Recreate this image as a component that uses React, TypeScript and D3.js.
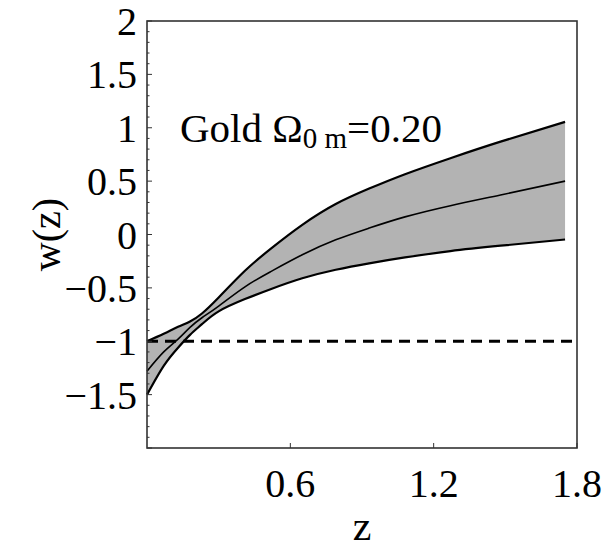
import React from 'react'
import * as d3 from 'd3'

// redshift samples and w(z) band
const zs = [0, 0.07, 0.13, 0.18, 0.23, 0.3, 0.41, 0.52, 0.65, 0.79, 0.93, 1.08, 1.27, 1.48, 1.75]
const upper = [-1.0, -0.93, -0.865, -0.815, -0.74, -0.59, -0.34, -0.13, 0.09, 0.285, 0.43, 0.565, 0.715, 0.87, 1.055]
const middle = [-1.28, -1.1, -0.98, -0.87, -0.78, -0.67, -0.49, -0.345, -0.19, -0.05, 0.06, 0.165, 0.27, 0.37, 0.5]
const lower = [-1.5, -1.23, -1.06, -0.94, -0.84, -0.72, -0.605, -0.51, -0.41, -0.33, -0.27, -0.215, -0.155, -0.105, -0.047]

const xTicks = [0.6, 1.2, 1.8]
const yTicks = [-1.5, -1, -0.5, 0, 0.5, 1, 1.5, 2]
const refW = -1

const W = 604, H = 549
const frame = {left: 147, right: 577, top: 21, bottom: 448}

export default function App() {
    const x = d3.scaleLinear().domain([0, 1.8]).range([frame.left, frame.right])
    const y = d3.scaleLinear().domain([-2, 2]).range([frame.bottom, frame.top])

    const pts = zs.map((z, i) => ({z, u: upper[i], m: middle[i], l: lower[i]}))

    const area = d3.area<any>()
        .x(d => x(d.z))
        .y0(d => y(d.l))
        .y1(d => y(d.u))
        .curve(d3.curveNatural)
    const line = (key: string) => d3.line<any>()
        .x(d => x(d.z))
        .y(d => y(d[key]))
        .curve(d3.curveNatural)(pts)

    const minor = d3.range(-20, 21).map(v => v / 10)
    const fmt = (v: number) => (v < 0 ? '\u2212' : '') + String(Math.abs(v))
    const font = '"Liberation Serif", "DejaVu Serif", serif'

    return (
        <svg width={W} height={H} style={{position: 'absolute', left: 0, top: 0, background: '#fff'}}
             fontFamily={font}>
            <path d={area(pts) || ''} fill="#b3b3b3" stroke="none"/>
            <path d={line('u') || ''} fill="none" stroke="#000" strokeWidth={2.2}/>
            <path d={line('m') || ''} fill="none" stroke="#000" strokeWidth={1.6}/>
            <path d={line('l') || ''} fill="none" stroke="#000" strokeWidth={2.2}/>
            <line x1={frame.left} x2={frame.right} y1={y(refW)} y2={y(refW)}
                  stroke="#000" strokeWidth={3} strokeDasharray="11,7"/>

            {/* frame */}
            <rect x={frame.left} y={frame.top} width={frame.right - frame.left} height={frame.bottom - frame.top}
                  fill="none" stroke="#333" strokeWidth={1.6}/>

            {minor.map(v => {
                const major = Math.abs(v * 2 - Math.round(v * 2)) < 1e-6
                return <line key={'m' + v} x1={frame.left} x2={frame.left + (major ? 5 : 2.5)}
                             y1={y(v)} y2={y(v)} stroke="#333" strokeWidth={1}/>
            })}
            {yTicks.map(v => (
                <text key={'y' + v} x={137} y={y(v)} dy="0.35em" textAnchor="end" fontSize={40}>{fmt(v)}</text>
            ))}

            {xTicks.map(v => (
                <g key={'x' + v}>
                    <line x1={x(v)} x2={x(v)} y1={frame.bottom} y2={frame.bottom - 5} stroke="#333" strokeWidth={1}/>
                    <text x={x(v)} y={483} dy="0.35em" textAnchor="middle" fontSize={40}>{v.toFixed(1)}</text>
                </g>
            ))}

            <text x={(frame.left + frame.right) / 2} y={532} dy="0.2em" textAnchor="middle" fontSize={42}>z</text>
            <text transform={`translate(48,${(frame.top + frame.bottom) / 2}) rotate(-90)`} textAnchor="middle"
                  dy="0.3em" fontSize={40}>w(z)</text>

            <text x={180} y={142} fontSize={41}>
                Gold {'\u03A9'}<tspan fontSize={29} dy={6}>0 m</tspan><tspan dy={-6}>=0.20</tspan>
            </text>
        </svg>
    )
}
